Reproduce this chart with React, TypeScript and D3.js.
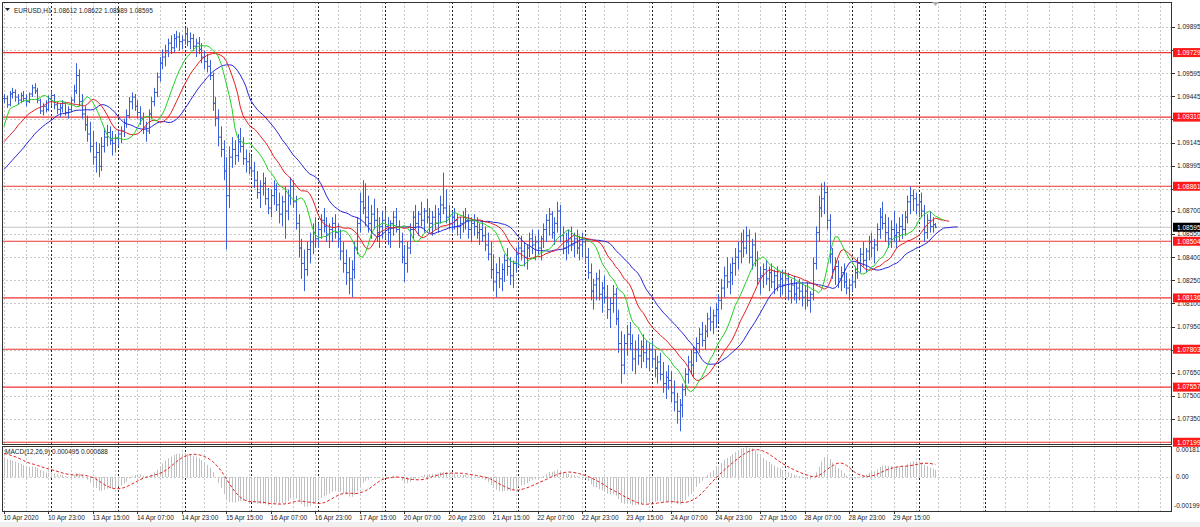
import React from "react";
import * as d3 from "d3";

// EURUSD H1 bars, one small array per trading day: [high, low, close]; open = previous close
const apr10 = [
  [1.0946, 1.094, 1.0943], [1.0945, 1.0937, 1.0939], [1.0948, 1.0938, 1.0946], [1.095, 1.0943, 1.0947], [1.0949, 1.0941, 1.0944], [1.0946, 1.0939, 1.0942],
  [1.0947, 1.094, 1.0945], [1.0948, 1.0941, 1.0943], [1.0946, 1.0938, 1.0941], [1.0947, 1.094, 1.0946], [1.0952, 1.0944, 1.095], [1.0953, 1.0946, 1.0948],
  [1.095, 1.094, 1.0942], [1.0943, 1.0933, 1.0935], [1.094, 1.0932, 1.0938], [1.0942, 1.0934, 1.0936], [1.0945, 1.0935, 1.0943],
];
const apr13 = [
  [1.0948, 1.0938, 1.0945], [1.0946, 1.0936, 1.0939], [1.0941, 1.0933, 1.0936], [1.094, 1.0931, 1.0937], [1.0942, 1.0934, 1.094], [1.0941, 1.0932, 1.0934],
  [1.0938, 1.093, 1.0936], [1.0944, 1.0934, 1.0942], [1.0952, 1.094, 1.0948], [1.0966, 1.0946, 1.0958], [1.0962, 1.0938, 1.0941], [1.0946, 1.093, 1.0933],
  [1.0938, 1.0922, 1.0926], [1.0932, 1.0915, 1.092], [1.0928, 1.0908, 1.0912], [1.0922, 1.09, 1.0905], [1.0915, 1.0895, 1.0908], [1.0914, 1.0892, 1.0899],
  [1.0918, 1.0896, 1.0912], [1.0924, 1.0908, 1.0918], [1.0926, 1.0912, 1.0921], [1.0925, 1.0913, 1.0916], [1.0922, 1.0906, 1.0914], [1.092, 1.0908, 1.0917],
];
const apr14 = [
  [1.0923, 1.0912, 1.092], [1.0925, 1.0914, 1.0922], [1.093, 1.0918, 1.0927], [1.0936, 1.0924, 1.0932], [1.0944, 1.093, 1.0941], [1.0947, 1.0936, 1.0944],
  [1.0946, 1.0935, 1.0938], [1.0942, 1.093, 1.0934], [1.0938, 1.0926, 1.093], [1.0934, 1.092, 1.0924], [1.0928, 1.0915, 1.0922], [1.0936, 1.092, 1.0933],
  [1.0944, 1.093, 1.0941], [1.095, 1.0938, 1.0947], [1.096, 1.0944, 1.0957], [1.097, 1.0954, 1.0966], [1.0975, 1.0962, 1.097], [1.0978, 1.0964, 1.0974],
  [1.0982, 1.097, 1.0979], [1.0984, 1.0972, 1.0976], [1.0985, 1.0973, 1.0982], [1.0987, 1.0976, 1.0983], [1.0986, 1.0974, 1.098], [1.0984, 1.0975, 1.0981],
];
const apr15 = [
  [1.0989, 1.0978, 1.0985], [1.0989, 1.0977, 1.098], [1.0986, 1.0975, 1.0982], [1.0985, 1.0974, 1.0977], [1.0982, 1.097, 1.0979], [1.0983, 1.0972, 1.0975],
  [1.0979, 1.0966, 1.097], [1.0974, 1.0962, 1.0967], [1.0972, 1.096, 1.0964], [1.0968, 1.0955, 1.0958], [1.096, 1.0935, 1.094], [1.0944, 1.0925, 1.093],
  [1.0936, 1.0912, 1.0918], [1.0925, 1.0905, 1.091], [1.0916, 1.089, 1.0896], [1.0905, 1.0845, 1.088], [1.0912, 1.0872, 1.0905], [1.0918, 1.0898, 1.091],
  [1.0916, 1.09, 1.0906], [1.092, 1.0902, 1.0915], [1.0924, 1.0908, 1.0912], [1.0918, 1.09, 1.0904], [1.091, 1.0895, 1.0902], [1.0908, 1.0894, 1.0898],
];
const apr16 = [
  [1.0906, 1.0892, 1.0896], [1.0902, 1.0885, 1.089], [1.0896, 1.0878, 1.0882], [1.089, 1.0872, 1.0886], [1.0895, 1.088, 1.0888], [1.0892, 1.0874, 1.0878],
  [1.0885, 1.0868, 1.0872], [1.0884, 1.0866, 1.088], [1.089, 1.0874, 1.0884], [1.0888, 1.087, 1.0874], [1.0882, 1.0862, 1.0868], [1.088, 1.086, 1.0876],
  [1.0886, 1.0852, 1.087], [1.0884, 1.0864, 1.088], [1.0892, 1.0874, 1.0886], [1.089, 1.0872, 1.0876], [1.088, 1.0858, 1.0862], [1.0868, 1.084, 1.0846],
  [1.0852, 1.0826, 1.0836], [1.0845, 1.0818, 1.0832], [1.085, 1.0828, 1.0845], [1.0856, 1.0836, 1.085], [1.0862, 1.0842, 1.0856], [1.0866, 1.0846, 1.0852],
];
const apr17 = [
  [1.0862, 1.0846, 1.0858], [1.0868, 1.0852, 1.0864], [1.0872, 1.0856, 1.086], [1.0866, 1.085, 1.0855], [1.0862, 1.0846, 1.0858], [1.0866, 1.085, 1.0862],
  [1.0868, 1.0852, 1.0856], [1.0862, 1.0846, 1.0852], [1.0858, 1.0838, 1.0844], [1.085, 1.083, 1.0836], [1.0845, 1.0822, 1.083], [1.084, 1.0816, 1.0826],
  [1.0838, 1.0814, 1.0832], [1.085, 1.0826, 1.0846], [1.0866, 1.0842, 1.0862], [1.0882, 1.0856, 1.0876], [1.089, 1.0868, 1.0872], [1.0888, 1.086, 1.0866],
  [1.088, 1.0856, 1.0862], [1.0874, 1.0852, 1.0868], [1.0878, 1.0858, 1.0864], [1.0872, 1.085, 1.0856], [1.0866, 1.0846, 1.086], [1.087, 1.0852, 1.0864],
];
const apr20 = [
  [1.0872, 1.0852, 1.086], [1.0866, 1.0848, 1.0856], [1.0864, 1.0846, 1.0862], [1.087, 1.0854, 1.0866], [1.0872, 1.0856, 1.0858], [1.0864, 1.0846, 1.085],
  [1.0856, 1.0836, 1.084], [1.0848, 1.0824, 1.0836], [1.085, 1.083, 1.0846], [1.0862, 1.0842, 1.0858], [1.087, 1.0852, 1.0866], [1.0874, 1.0858, 1.0862],
  [1.087, 1.0854, 1.0868], [1.0876, 1.086, 1.0864], [1.0872, 1.0856, 1.087], [1.0878, 1.0862, 1.0866], [1.0872, 1.0856, 1.0862], [1.087, 1.0854, 1.0866],
  [1.0874, 1.0858, 1.0862], [1.0872, 1.0856, 1.0868], [1.088, 1.0862, 1.0874], [1.0895, 1.0868, 1.0872], [1.0884, 1.0862, 1.0866], [1.0874, 1.0858, 1.0862],
];
const apr21 = [
  [1.087, 1.0856, 1.0866], [1.0872, 1.0858, 1.0864], [1.0868, 1.0854, 1.086], [1.0866, 1.0852, 1.0862], [1.087, 1.0856, 1.0866], [1.0872, 1.0858, 1.0864],
  [1.0868, 1.0852, 1.0858], [1.0866, 1.085, 1.0862], [1.0868, 1.0854, 1.086], [1.0866, 1.0852, 1.0856], [1.0862, 1.0848, 1.0858], [1.0864, 1.085, 1.0854],
  [1.086, 1.0844, 1.0848], [1.0856, 1.0838, 1.0842], [1.085, 1.0826, 1.0832], [1.0842, 1.0818, 1.0824], [1.0836, 1.0814, 1.083], [1.084, 1.082, 1.0826],
  [1.0836, 1.0818, 1.0832], [1.0842, 1.0824, 1.0838], [1.0846, 1.0828, 1.0834], [1.084, 1.0822, 1.0828], [1.0838, 1.082, 1.0836], [1.0846, 1.083, 1.0842],
];
const apr22 = [
  [1.085, 1.0834, 1.0846], [1.0854, 1.0838, 1.0844], [1.085, 1.0834, 1.084], [1.0848, 1.0832, 1.0846], [1.0856, 1.084, 1.0852], [1.0858, 1.0842, 1.0848],
  [1.0854, 1.0838, 1.085], [1.0858, 1.0842, 1.0846], [1.0854, 1.0838, 1.0852], [1.0862, 1.0846, 1.0858], [1.0868, 1.085, 1.0864], [1.0872, 1.0854, 1.0868],
  [1.087, 1.0852, 1.0856], [1.0866, 1.0848, 1.0862], [1.0876, 1.0856, 1.087], [1.0874, 1.085, 1.0854], [1.086, 1.0842, 1.0846], [1.0856, 1.0838, 1.085],
  [1.0858, 1.0842, 1.0852], [1.086, 1.0844, 1.0848], [1.0856, 1.084, 1.0852], [1.0858, 1.0842, 1.0846], [1.0854, 1.0838, 1.0848], [1.0856, 1.084, 1.085],
];
const apr23 = [
  [1.0852, 1.0836, 1.084], [1.0846, 1.0826, 1.083], [1.0836, 1.0812, 1.0818], [1.0826, 1.0806, 1.0822], [1.083, 1.0812, 1.0826], [1.0832, 1.0812, 1.0816],
  [1.0824, 1.0804, 1.082], [1.0828, 1.081, 1.0814], [1.0822, 1.08, 1.0806], [1.0814, 1.0794, 1.081], [1.0822, 1.0804, 1.0816], [1.082, 1.0796, 1.08],
  [1.0806, 1.0778, 1.0784], [1.0792, 1.0758, 1.077], [1.079, 1.0764, 1.0784], [1.0796, 1.0776, 1.079], [1.0798, 1.078, 1.0784], [1.079, 1.0766, 1.0774],
  [1.0786, 1.0764, 1.078], [1.079, 1.077, 1.0776], [1.0786, 1.0768, 1.0782], [1.079, 1.0772, 1.0778], [1.0786, 1.0768, 1.0774], [1.0784, 1.0766, 1.078],
];
const apr24 = [
  [1.0786, 1.0768, 1.0774], [1.078, 1.0762, 1.0768], [1.0776, 1.0758, 1.0772], [1.0778, 1.076, 1.0764], [1.0772, 1.0752, 1.0758], [1.0766, 1.0748, 1.0762],
  [1.077, 1.0754, 1.076], [1.0766, 1.0746, 1.0752], [1.076, 1.074, 1.0746], [1.0752, 1.0732, 1.074], [1.0748, 1.0727, 1.0744], [1.0758, 1.0736, 1.0754],
  [1.0768, 1.075, 1.0764], [1.0776, 1.0758, 1.0772], [1.078, 1.0764, 1.077], [1.0782, 1.0762, 1.0778], [1.0788, 1.0772, 1.0784], [1.0794, 1.0778, 1.079],
  [1.0798, 1.0782, 1.0786], [1.0796, 1.078, 1.0792], [1.0804, 1.0788, 1.08], [1.0808, 1.0792, 1.0798], [1.0806, 1.079, 1.0802], [1.081, 1.0794, 1.0806],
];
const apr27 = [
  [1.0816, 1.0798, 1.0812], [1.0826, 1.0806, 1.082], [1.0834, 1.0814, 1.0828], [1.084, 1.082, 1.0824], [1.0836, 1.0816, 1.083], [1.084, 1.0822, 1.0836],
  [1.0846, 1.0828, 1.084], [1.085, 1.0832, 1.0844], [1.0856, 1.0836, 1.085], [1.0858, 1.084, 1.0846], [1.086, 1.0842, 1.0854], [1.0858, 1.0836, 1.084],
  [1.0852, 1.0832, 1.0848], [1.0856, 1.0834, 1.0838], [1.0844, 1.0822, 1.0826], [1.0834, 1.0816, 1.0828], [1.0836, 1.082, 1.0832], [1.0838, 1.0822, 1.0826],
  [1.0834, 1.0818, 1.083], [1.0836, 1.082, 1.0824], [1.0832, 1.0816, 1.0828], [1.0834, 1.0818, 1.0822], [1.083, 1.0814, 1.0826], [1.0832, 1.0816, 1.0822],
];
const apr28 = [
  [1.0832, 1.0814, 1.0826], [1.083, 1.0812, 1.0818], [1.0826, 1.081, 1.0822], [1.0828, 1.0812, 1.0816], [1.0824, 1.081, 1.082], [1.0826, 1.0812, 1.0818],
  [1.0824, 1.0808, 1.0814], [1.0822, 1.0806, 1.0818], [1.0824, 1.0808, 1.0812], [1.0818, 1.0804, 1.0816], [1.084, 1.0812, 1.0836], [1.086, 1.0832, 1.0856],
  [1.088, 1.085, 1.0872], [1.0888, 1.0866, 1.0878], [1.0889, 1.0868, 1.0882], [1.0886, 1.0858, 1.0864], [1.0868, 1.0836, 1.0842], [1.0846, 1.0826, 1.0832],
  [1.084, 1.0822, 1.0834], [1.0838, 1.082, 1.0826], [1.0834, 1.0818, 1.083], [1.0836, 1.082, 1.0824], [1.083, 1.0816, 1.082], [1.0826, 1.0812, 1.0822],
];
const apr29 = [
  [1.0828, 1.0818, 1.0824], [1.0834, 1.082, 1.083], [1.084, 1.0826, 1.0836], [1.0846, 1.083, 1.0842], [1.085, 1.0834, 1.0838], [1.0846, 1.083, 1.0844],
  [1.0854, 1.0838, 1.085], [1.0856, 1.084, 1.0846], [1.0852, 1.0836, 1.0848], [1.0862, 1.0844, 1.0858], [1.0872, 1.0852, 1.0866], [1.0876, 1.0858, 1.0862],
  [1.0868, 1.085, 1.0856], [1.0866, 1.0846, 1.0852], [1.0864, 1.0846, 1.0858], [1.087, 1.085, 1.0854], [1.0862, 1.0846, 1.0856], [1.0866, 1.085, 1.086],
  [1.0868, 1.0852, 1.0858], [1.087, 1.0854, 1.0866], [1.088, 1.0862, 1.0876], [1.0886, 1.0868, 1.088], [1.0884, 1.087, 1.0878], [1.0882, 1.0868, 1.0874],
];
const apr30 = [
  [1.088, 1.0866, 1.0876], [1.0882, 1.0866, 1.087], [1.0874, 1.085, 1.0856], [1.0868, 1.0852, 1.0864], [1.087, 1.0856, 1.086], [1.0866, 1.0856, 1.08612],
  [1.08622, 1.08589, 1.08595],
];
const days = [apr10, apr13, apr14, apr15, apr16, apr17, apr20, apr21, apr22, apr23, apr24, apr27, apr28, apr29, apr30];

// alligator values left of the first shifted point
const jawLead = [1.0897, 1.0899, 1.0901, 1.0903, 1.0905, 1.0907, 1.0909, 1.0911];
const teethLead = [1.0915, 1.0917, 1.0919, 1.0921, 1.0923];
const lipsLead = [1.0925, 1.0931, 1.0936];
// MACD state at the left edge
const macdStart = 0.0013;
const signalStart = 0.00145;

const priceTicks = [1.09895, 1.09745, 1.09595, 1.09445, 1.09295, 1.09145, 1.08995, 1.08845, 1.087, 1.0855, 1.084, 1.0825, 1.081, 1.0795, 1.078, 1.0765, 1.075, 1.0735];
const levels = [1.09729, 1.0931, 1.08861, 1.08504, 1.08136, 1.07803, 1.07557, 1.07199];
const macdTicks = [0.001812, 0, -0.00199];
const macdTickLabels = ["0.001812", "0.00", "-0.00199"];
const timeLabels = [
  "10 Apr 2020", "10 Apr 23:00", "13 Apr 15:00", "14 Apr 07:00", "14 Apr 23:00", "15 Apr 15:00", "16 Apr 07:00",
  "16 Apr 23:00", "17 Apr 15:00", "20 Apr 07:00", "20 Apr 23:00", "21 Apr 15:00", "22 Apr 07:00", "22 Apr 23:00",
  "23 Apr 15:00", "24 Apr 07:00", "24 Apr 23:00", "27 Apr 15:00", "28 Apr 07:00", "28 Apr 23:00", "29 Apr 15:00",
];
const header = "EURUSD,H1  1.08612 1.08622 1.08589 1.08595";
const macdHeader = "MACD(12,26,9) 0.000495 0.000688";

const W = 1200;
const H = 527;
const L = 2;
const R = 1172;
const mainTop = 2;
const mainBottom = 444;
const macdTop = 446;
const macdBottom = 511;
const FONT = "'Liberation Sans', Arial, sans-serif";

const App: React.FC = () => {
  const bars = days.flat().map((b, i, arr) => ({
    i,
    h: b[0],
    l: b[1],
    c: b[2],
    o: i === 0 ? b[2] : arr[i - 1][2],
  }));
  const n = bars.length;

  const x = d3.scaleLinear().domain([0, 300]).range([4, 838]);
  const y = d3.scaleLinear().domain([1.09895, 1.0735]).range([27, 419]);
  const ym = d3.scaleLinear().domain([0.001812, -0.00199]).range([447, 510]);
  const px = (i: number) => Math.round(x(i)) + 0.5;

  // day separators
  const dayStarts: number[] = [];
  let acc = 0;
  days.forEach((d, k) => {
    if (k > 0) dayStarts.push(acc);
    acc += d.length;
  });
  dayStarts.push(dayStarts[dayStarts.length - 1] + 24);

  // light grid every 8 bars
  const gridIdx = d3.range(0, 420, 8).filter((i) => x(i) < R - 3);

  // alligator on median price
  const median = bars.map((b) => (b.h + b.l) / 2);
  const smma = (src: number[], p: number, seed: number) => {
    let prev = seed;
    return src.map((v) => (prev = (prev * (p - 1) + v) / p));
  };
  const jaw = [...jawLead, ...smma(median, 13, jawLead[jawLead.length - 1])];
  const teeth = [...teethLead, ...smma(median, 8, teethLead[teethLead.length - 1])];
  const lips = [...lipsLead, ...smma(median, 5, lipsLead[lipsLead.length - 1])];
  const maLine = d3
    .line<number>()
    .x((_, i) => x(i))
    .y((v) => y(v));

  // MACD 12,26,9
  let e12 = bars[0].c;
  let e26 = bars[0].c - macdStart;
  const macd = bars.map((b) => {
    e12 = e12 + (2 / 13) * (b.c - e12);
    e26 = e26 + (2 / 27) * (b.c - e26);
    return e12 - e26;
  });
  const signal = macd.map((_, i) => {
    let s = 0;
    for (let k = i - 8; k <= i; k++) s += k < 0 ? signalStart : macd[k];
    return s / 9;
  });
  const sigLine = d3
    .line<number>()
    .x((_, i) => x(i))
    .y((v) => ym(v));

  const ohlcPath = bars
    .map((b) => {
      const cx = px(b.i);
      return `M${cx},${y(b.h)}V${y(b.l)}M${cx - 1.5},${y(b.o)}H${cx}M${cx},${y(b.c)}H${cx + 1.5}`;
    })
    .join("");

  const last = bars[n - 1].c;
  // tick labels that sit fully under a coloured level label are not drawn
  const visibleTicks = priceTicks.filter((t) => !levels.some((v) => Math.abs(y(v) - y(t)) < 4));

  return (
    <svg
      width={W}
      height={H}
      style={{ position: "absolute", left: 0, top: 0, background: "#fff" }}
      fontFamily={FONT}
    >
      <defs>
        <clipPath id="mainClip">
          <rect x={L} y={mainTop} width={R - L} height={mainBottom - mainTop} />
        </clipPath>
        <clipPath id="macdClip">
          <rect x={L} y={macdTop} width={R - L} height={macdBottom - macdTop} />
        </clipPath>
      </defs>
      <rect x={0} y={0} width={W} height={H} fill="#fff" />
      <rect x={0} y={522} width={W} height={5} fill="#f0f0f0" />

      {/* horizontal grid */}
      <g stroke="#c8c8c8" strokeDasharray="2,2" strokeWidth={1}>
        {priceTicks.map((t) => (
          <line key={t} x1={L} x2={R} y1={Math.round(y(t)) + 0.5} y2={Math.round(y(t)) + 0.5} />
        ))}
        <line x1={L} x2={R} y1={Math.round(ym(0)) + 0.5} y2={Math.round(ym(0)) + 0.5} />
      </g>

      {/* vertical grid */}
      <g stroke="#c8c8c8" strokeDasharray="2,2" strokeWidth={1}>
        {gridIdx.map((i) => (
          <g key={i}>
            <line x1={px(i)} x2={px(i)} y1={mainTop} y2={mainBottom} />
            <line x1={px(i)} x2={px(i)} y1={macdTop} y2={macdBottom} />
          </g>
        ))}
      </g>
      <g stroke="#222" strokeDasharray="2,2" strokeWidth={1}>
        {dayStarts.map((i) => (
          <g key={i}>
            <line x1={px(i)} x2={px(i)} y1={mainTop} y2={mainBottom} />
            <line x1={px(i)} x2={px(i)} y1={macdTop} y2={macdBottom} />
          </g>
        ))}
      </g>

      {/* main pane */}
      <g clipPath="url(#mainClip)">
        <line x1={L} x2={R} y1={y(last)} y2={y(last)} stroke="#c4c4c4" strokeWidth={1} />
        {levels.map((v) => (
          <line key={v} x1={L} x2={R} y1={y(v)} y2={y(v)} stroke="#f03434" strokeWidth={1.2} />
        ))}
        <path d={ohlcPath} fill="none" stroke="#3b5fd8" strokeWidth={1} />
        <path d={maLine(jaw) ?? ""} fill="none" stroke="#2626d9" strokeWidth={1} />
        <path d={maLine(teeth) ?? ""} fill="none" stroke="#e31e1e" strokeWidth={1} />
        <path d={maLine(lips) ?? ""} fill="none" stroke="#22d022" strokeWidth={1} />
      </g>

      {/* MACD pane */}
      <g clipPath="url(#macdClip)">
        {macd.map((v, i) => (
          <line key={i} x1={px(i)} x2={px(i)} y1={ym(0)} y2={ym(v)} stroke="#c0c0c0" strokeWidth={1} />
        ))}
        <path d={sigLine(signal) ?? ""} fill="none" stroke="#e02020" strokeWidth={1} strokeDasharray="3,2" />
      </g>

      {/* frames */}
      <rect x={L + 0.5} y={mainTop + 0.5} width={R - L - 1} height={mainBottom - mainTop} fill="none" stroke="#333" strokeWidth={1} />
      <rect x={L + 0.5} y={macdTop + 0.5} width={R - L - 1} height={macdBottom - macdTop} fill="none" stroke="#333" strokeWidth={1} />
      <polygon points="932,2 939,2 935.5,6" fill="#b0b0b0" />

      {/* headers */}
      <polygon points="5,8 10,8 7.5,11" fill="#222" />
      <text x={14} y={12.5} fontSize={6.5} fill="#222">
        {header}
      </text>
      <text x={5} y={454} fontSize={6.5} fill="#222">
        {macdHeader}
      </text>

      {/* price axis */}
      <g fontSize={6.5} fill="#222">
        {priceTicks.map((t) => (
          <line key={t} x1={R} x2={R + 3} y1={Math.round(y(t)) + 0.5} y2={Math.round(y(t)) + 0.5} stroke="#333" />
        ))}
        {visibleTicks.map((t) => (
          <text key={t} x={1177} y={y(t) + 2.3}>
            {t.toFixed(5)}
          </text>
        ))}
        {macdTicks.map((t, k) => (
          <text key={t} x={t < 0 ? 1174 : 1176} y={Math.min(Math.max(ym(t), 450), 506) + 2.3}>
            {macdTickLabels[k]}
          </text>
        ))}
      </g>
      {levels.map((v) => (
        <g key={v}>
          <rect x={R + 1} y={y(v) - 4.5} width={W - R} height={9} fill="#ff1a1a" />
          <text x={1177} y={y(v) + 2.3} fontSize={6.5} fill="#fff">
            {v.toFixed(5)}
          </text>
        </g>
      ))}
      <rect x={R + 1} y={y(last) - 4.5} width={W - R} height={9} fill="#000" />
      <text x={1177} y={y(last) + 2.3} fontSize={6.5} fill="#fff">
        {last.toFixed(5)}
      </text>

      {/* time axis */}
      <g fontSize={6.5} fill="#222">
        {timeLabels.map((t, k) => (
          <g key={t}>
            <line x1={px(k * 16)} x2={px(k * 16)} y1={macdBottom} y2={macdBottom + 3} stroke="#333" />
            <text x={x(k * 16) - 0.5} y={519.5}>
              {t}
            </text>
          </g>
        ))}
      </g>
    </svg>
  );
};

export default App;
